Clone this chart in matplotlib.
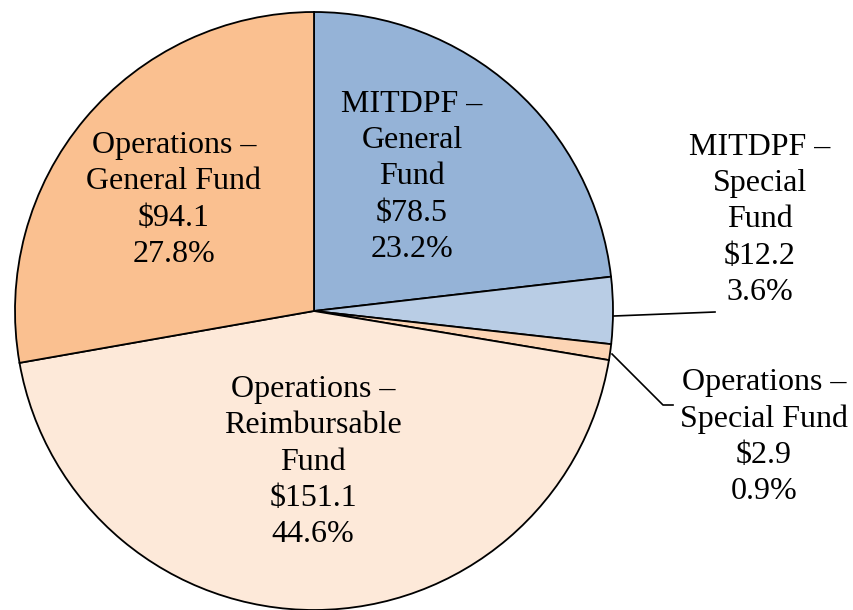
import matplotlib
matplotlib.use("Agg")
import matplotlib.pyplot as plt

# slices in clockwise order starting from 12 o'clock
names = [
    "MITDPF \u2013\nGeneral\nFund",
    "MITDPF \u2013\nSpecial\nFund",
    "Operations \u2013\nSpecial Fund",
    "Operations \u2013\nReimbursable\nFund",
    "Operations \u2013\nGeneral Fund",
]
amounts = [78.5, 12.2, 2.9, 151.1, 94.1]
percents = [23.2, 3.6, 0.9, 44.6, 27.8]
colors = ["#95B3D7", "#B9CDE5", "#FCD5B5", "#FDE9D9", "#FAC090"]

W, H = 854, 610
CX, CY, R = 314, H - 311, 299

# label block centres (pixel coords, origin bottom-left)
label_pos = [(412, H - 177), (760, H - 220), (764, H - 437), (313, H - 462), (174, H - 200)]

plt.rcParams["font.family"] = ["Liberation Serif", "DejaVu Serif"]

fig = plt.figure(figsize=(W / 100, H / 100), dpi=100)
ax = fig.add_axes([0, 0, 1, 1])

wedges, _ = ax.pie(
    amounts,
    colors=colors,
    startangle=90,
    counterclock=False,
    center=(CX, CY),
    radius=R,
    frame=True,
    wedgeprops=dict(edgecolor="black", linewidth=1.3),
)
ax.set_xlim(0, W)
ax.set_ylim(0, H)
ax.set_aspect("equal")
ax.axis("off")

for name, amt, pct, (x, y) in zip(names, amounts, percents, label_pos):
    ax.text(x, y, f"{name}\n${amt:.1f}\n{pct:.1f}%", ha="center", va="center",
            fontsize=23, linespacing=1.33, color="black")

# leader lines for the two thin slices
ax.plot([614, 715], [H - 316, H - 312], color="black", lw=1.2)
ax.plot([612, 663, 673], [H - 354, H - 405, H - 405], color="black", lw=1.2)

fig.savefig("out.png", dpi=100)
